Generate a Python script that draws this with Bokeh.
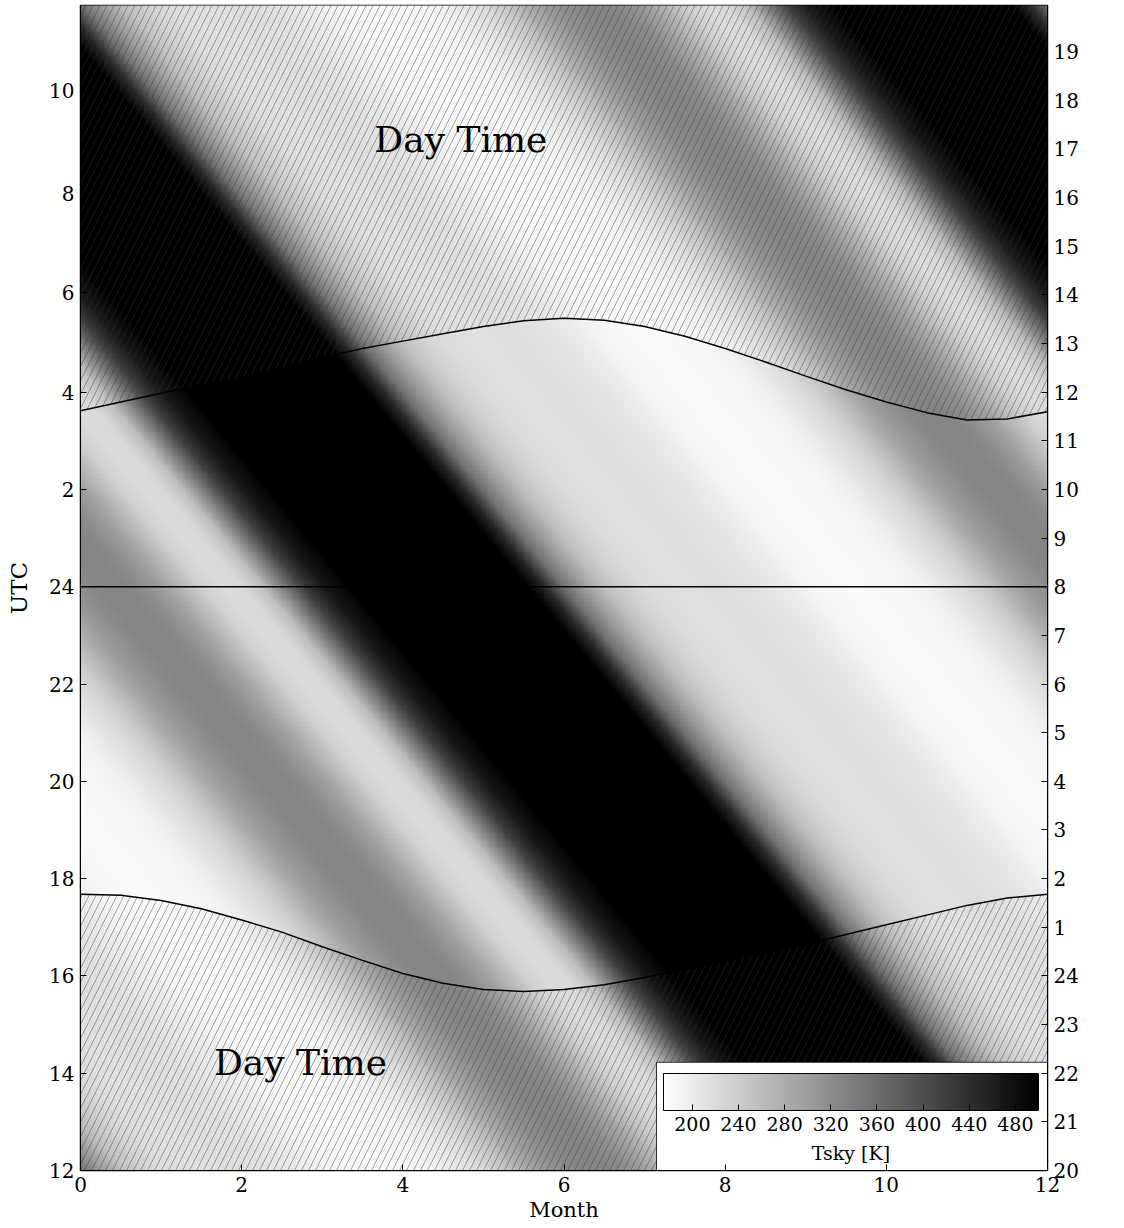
import numpy as np
from bokeh.plotting import figure
from bokeh.models import (LinearColorMapper, ColorBar, FixedTicker, LinearAxis,
                          Label, Span, Range1d)
from bokeh.embed import file_html
from bokeh.resources import INLINE

# ---------------- data ----------------
# sky temperature [K] versus local sidereal time (hours), 0.5 h steps
sidereal_hours = [0.0, 0.5, 1.0, 1.5, 2.0, 2.5, 3.0, 3.5, 4.0, 4.5, 5.0, 5.5,
                  6.0, 6.5, 7.0, 7.5, 8.0, 8.5, 9.0, 9.5, 10.0, 10.5, 11.0, 11.5,
                  12.0, 12.5, 13.0, 13.5, 14.0, 14.5, 15.0, 15.5, 16.0, 16.5, 17.0, 17.5,
                  18.0, 18.5, 19.0, 19.5, 20.0, 20.5, 21.0, 21.5, 22.0, 22.5, 23.0, 23.5]
tsky_profile = [217, 214, 208, 201, 191, 185, 182, 182, 185, 188, 195, 208,
                224, 247, 279, 305, 321, 331, 331, 321, 298, 266, 234, 221,
                224, 256, 338, 419, 468, 490, 520, 560, 590, 600, 600, 590,
                570, 540, 510, 451, 354, 299, 256, 234, 221, 217, 214, 217]

# LST on Jan 1 = UTC + 8 h; the sky advances 2 h per month
lst_offset_hours = 8.0
sidereal_drift_per_month = 2.0

# day/night boundary curves (UTC hours) versus month
curve_months = [0.0, 0.5, 1.0, 1.5, 2.0, 2.5, 3.0, 3.5, 4.0, 4.5, 5.0, 5.5, 6.0,
                6.5, 7.0, 7.5, 8.0, 8.5, 9.0, 9.5, 10.0, 10.5, 11.0, 11.5, 12.0]
upper_utc = [3.62, 3.80, 3.98, 4.15, 4.30, 4.50, 4.72, 4.90, 5.05, 5.20, 5.35, 5.47, 5.52,
             5.48, 5.35, 5.15, 4.90, 4.62, 4.33, 4.05, 3.80, 3.58, 3.43, 3.45, 3.60]
lower_utc = [17.68, 17.66, 17.55, 17.38, 17.15, 16.90, 16.60, 16.32, 16.05, 15.85, 15.72, 15.68, 15.72,
             15.82, 15.97, 16.13, 16.30, 16.47, 16.65, 16.85, 17.05, 17.25, 17.45, 17.60, 17.68]

x_ticks = [0, 2, 4, 6, 8, 10, 12]
utc_ticks = [12, 14, 16, 18, 20, 22, 24, 26, 28, 30.05, 32.08, 34.2]
utc_labels = ["12", "14", "16", "18", "20", "22", "24", "2", "4", "6", "8", "10"]
lst_ticks = list(range(12, 36))
lst_labels = ["20", "21", "22", "23", "24", "1", "2", "3", "4", "5", "6", "7",
              "8", "9", "10", "11", "12", "13", "14", "15", "16", "17", "18", "19"]
cbar_ticks = [200, 240, 280, 320, 360, 400, 440, 480]
t_low, t_high = 175, 500

FONT = "DejaVu Serif"

# ---------------- figure ----------------
p = figure(frame_width=967, frame_height=1165,
           x_range=Range1d(0, 12), y_range=Range1d(12, 35.95),
           output_backend="svg", toolbar_location=None,
           min_border_left=80, min_border_right=76, min_border_top=5, min_border_bottom=50)
p.background_fill_color = "white"
p.outline_line_color = "black"
p.outline_line_width = 1.5
p.xgrid.grid_line_color = None
p.ygrid.grid_line_color = None

# sky temperature image
mx = np.linspace(0, 12, 600)
uy = np.linspace(12, 36, 720)
M, U = np.meshgrid(mx, uy)
s = (U + lst_offset_hours + sidereal_drift_per_month * M) % 24.0
prof_x = np.array(sidereal_hours + [24.0])
prof_y = np.array(tsky_profile + [tsky_profile[0]], dtype=float)
img = np.interp(s, prof_x, prof_y)

palette = ["#%02x%02x%02x" % (v, v, v) for v in range(255, -1, -1)]
mapper = LinearColorMapper(palette=palette, low=t_low, high=t_high)
p.image(image=[img], x=0, y=12, dw=12, dh=24, color_mapper=mapper)

# hatched day-time regions
upper_y = [24 + u for u in upper_utc]
hatch_kw = dict(fill_color="white", fill_alpha=0, hatch_pattern="/", hatch_color="#333333",
                hatch_alpha=0.55, hatch_scale=14, hatch_weight=0.8)
p.varea(x=curve_months, y1=upper_y, y2=[36.5] * len(curve_months), **hatch_kw)
p.varea(x=curve_months, y1=[11.5] * len(curve_months), y2=lower_utc, **hatch_kw)

p.line(curve_months, upper_y, line_color="black", line_width=1.5)
p.line(curve_months, lower_utc, line_color="black", line_width=1.5)
p.add_layout(Span(location=24, dimension="width", line_color="black", line_width=1.5))

p.add_layout(Label(x=4.72, y=33.2, text="Day Time", text_align="center", text_baseline="middle",
                   text_font=FONT, text_font_size="36px", text_color="black"))
p.add_layout(Label(x=2.73, y=14.23, text="Day Time", text_align="center", text_baseline="middle",
                   text_font=FONT, text_font_size="36px", text_color="black"))

# colour bar inset
p.quad(left=[7.148], right=[12.0], bottom=[11.9], top=[14.225],
       fill_color="white", line_color="black", line_width=0.8)
cb = ColorBar(color_mapper=mapper, orientation="horizontal", width=375, height=37,
              ticker=FixedTicker(ticks=cbar_ticks), location=(583, 37), padding=0,
              background_fill_alpha=0, border_line_color=None,
              bar_line_color="black", bar_line_width=1,
              major_tick_line_color="black", major_tick_in=6, major_tick_out=0,
              minor_tick_line_color=None, label_standoff=6,
              major_label_text_font=FONT, major_label_text_font_size="19px",
              major_label_text_color="black")
p.add_layout(cb)
p.add_layout(Label(x=9.56, y=12.37, text="Tsky [K]", text_align="center", text_baseline="middle",
                   text_font=FONT, text_font_size="19px", text_color="black"))

# axes
def style_axis(ax, label_size):
    ax.major_tick_in = 6
    ax.major_tick_out = 0
    ax.minor_tick_in = 0
    ax.minor_tick_out = 0
    ax.major_tick_line_color = "black"
    ax.axis_line_color = "black"
    ax.major_label_text_font = FONT
    ax.major_label_text_font_size = "20px"
    ax.major_label_text_color = "black"
    ax.axis_label_text_font = FONT
    ax.axis_label_text_font_size = label_size
    ax.axis_label_text_font_style = "normal"
    ax.axis_label_text_color = "black"
    ax.major_label_standoff = 6

xa = p.xaxis[0]
style_axis(xa, "21px")
xa.ticker = FixedTicker(ticks=x_ticks)
xa.axis_label = "Month"
xa.axis_label_standoff = 3

ya = p.yaxis[0]
style_axis(ya, "23px")
ya.ticker = FixedTicker(ticks=utc_ticks)
ya.major_label_overrides = {t: l for t, l in zip(utc_ticks, utc_labels)}
ya.axis_label = "UTC"
ya.axis_label_standoff = 14

ra = LinearAxis(ticker=FixedTicker(ticks=lst_ticks))
style_axis(ra, "22px")
ra.major_label_overrides = {t: l for t, l in zip(lst_ticks, lst_labels)}
p.add_layout(ra, "right")
p.add_layout(Label(x=12.74, y=23.3, text="LST [hours, on Jan 1]", angle=np.pi / 2,
                   text_align="center", text_baseline="middle",
                   text_font=FONT, text_font_size="22px", text_color="black"))

open("out.html", "w").write(file_html(p, INLINE))
